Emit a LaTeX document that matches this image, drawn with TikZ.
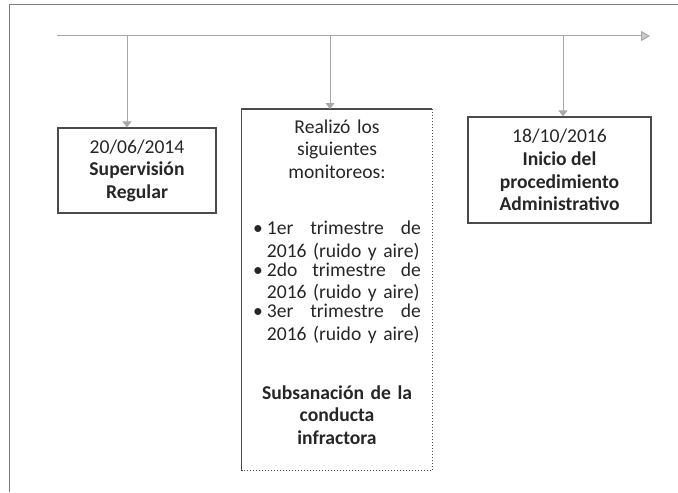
\documentclass[tikz,border=0pt]{standalone}
\usepackage{fontspec}
\setmainfont{Carlito}
\usetikzlibrary{arrows.meta, positioning}
\definecolor{lineG}{RGB}{168,168,168}
\definecolor{boxG}{RGB}{75,75,75}
\definecolor{textG}{RGB}{38,38,38}

\begin{document}
\begin{tikzpicture}[
  x=0.5pt, y=-0.5pt,
  every node/.style={font=\fontsize{9.8}{11.3}\selectfont, text=textG, inner sep=0pt},
  datebox/.style={draw=boxG, line width=0.6pt, align=center},
  branch/.style={->, draw=lineG, line width=0.5pt},
  >={Triangle[length=3pt, width=4.5pt]}
]
  \useasboundingbox (0,0) rectangle (678,492);
  % --- Frame (top and left edges only) ---
  \draw[gray, line width=0.5pt] (678,5) -- (9,5) -- (9,492);

  % --- Timeline ---
  \coordinate (t0) at (57,36);
  \coordinate (tE) at (650,36);
  \draw[draw=lineG, line width=0.5pt, -{Triangle[length=4.5pt, width=5pt, fill=lineG!60]}] (t0) -- (tE);
  \coordinate (t1) at (127,36);
  \coordinate (t2) at (330,36);
  \coordinate (t3) at (563,36);

  % --- Box 1: supervision ---
  \node[datebox, minimum width=79pt, minimum height=42.5pt] (sup) at (137,170.5)
    {20/06/2014\\\textbf{Supervisión}\\\textbf{Regular}};

  % --- Box 2: monitoring (selected text box) ---
  \node[minimum width=95pt, minimum height=180.5pt, anchor=north] (mon) at (337,109) {};
  \node[align=center, text width=85pt, anchor=north] (monT) at ([yshift=-5pt]mon.north) {%
    Realizó los\\siguientes\\monitoreos:\\[17pt]
    \textbullet\hspace{2pt}\parbox[t]{77pt}{1er\hfill trimestre\hfill de\\\mbox{2016 (ruido y aire)}}\\
    \textbullet\hspace{2pt}\parbox[t]{77pt}{2do\hfill trimestre\hfill de\\\mbox{2016 (ruido y aire)}}\\
    \textbullet\hspace{2pt}\parbox[t]{77pt}{3er\hfill trimestre\hfill de\\\mbox{2016 (ruido y aire)}}\\[20pt]
    \textbf{Subsanación de la}\\\textbf{conducta}\\\textbf{infractora}};
  \draw[boxG, line width=0.6pt] (mon.south west) -- (mon.north west) -- (mon.north east);
  \draw[boxG, line width=0.5pt, densely dotted] (mon.north east) -- (mon.south east) -- (mon.south west);

  % --- Box 3: administrative procedure ---
  \node[datebox, minimum width=91.5pt, minimum height=53pt] (adm) at (559.5,170)
    {18/10/2016\\\textbf{Inicio del}\\\textbf{procedimiento}\\\textbf{Administrativo}};

  % --- Branches from the timeline ---
  \draw[branch] (t1) -- (t1 |- sup.north);
  \draw[branch] (t2) -- (t2 |- mon.north);
  \draw[branch] (t3) -- (t3 |- adm.north);
\end{tikzpicture}
\end{document}
